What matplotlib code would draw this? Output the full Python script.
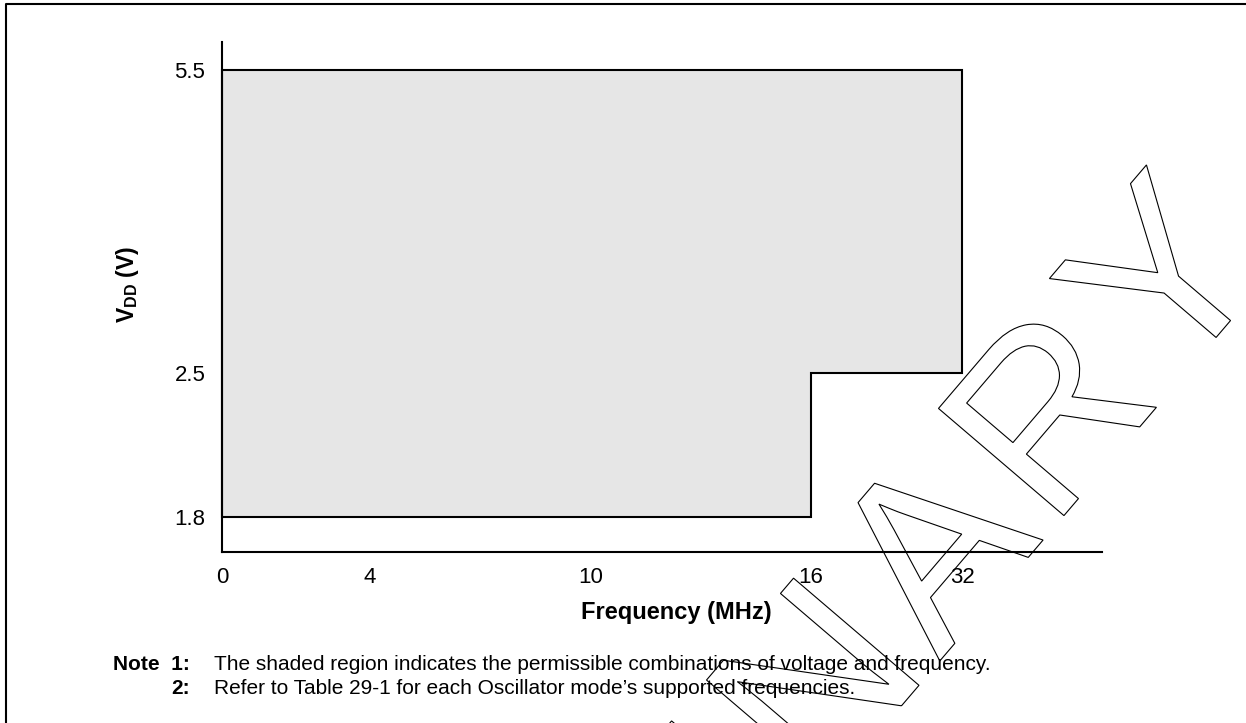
import numpy as np
import matplotlib
matplotlib.use('Agg')
import matplotlib.pyplot as plt
from matplotlib.textpath import TextPath
from matplotlib.path import Path
from matplotlib.patches import PathPatch
from matplotlib.font_manager import FontProperties, findfont, get_font
from matplotlib.transforms import Affine2D
from matplotlib.lines import Line2D

plt.rcParams['font.family'] = ['Liberation Sans', 'DejaVu Sans']
plt.rcParams['mathtext.fontset'] = 'custom'
plt.rcParams['mathtext.rm'] = 'Liberation Sans'
plt.rcParams['mathtext.bf'] = 'Liberation Sans:bold'

# values
freq_ticks = [0, 4, 10, 16, 32]
vdd_ticks = [1.8, 2.5, 5.5]
region_freq = [0, 16, 16, 32, 32, 0]
region_vdd = [1.8, 1.8, 2.5, 2.5, 5.5, 5.5]
note_nums = ['Note  1:', '2:']
note_texts = ['The shaded region indicates the permissible combinations of voltage and frequency.',
              'Refer to Table 29-1 for each Oscillator mode\u2019s supported frequencies.']

W, H = 1246, 723

# the drawing is not to scale: ticks sit on uneven slots
def interp_ext(v, xs, ys):
    xs = np.asarray(xs, float); ys = np.asarray(ys, float)
    v = np.asarray(v, float)
    out = np.interp(v, xs, ys)
    lo = (ys[1] - ys[0]) / (xs[1] - xs[0])
    hi = (ys[-1] - ys[-2]) / (xs[-1] - xs[-2])
    out = np.where(v < xs[0], ys[0] + (v - xs[0]) * lo, out)
    out = np.where(v > xs[-1], ys[-1] + (v - xs[-1]) * hi, out)
    return out

x_slots = [0, 1, 2.49, 3.98, 5.0]
y_slots = [0, 1.435, 4.47]
xfwd = lambda v: interp_ext(v, freq_ticks, x_slots)
xinv = lambda p: interp_ext(p, x_slots, freq_ticks)
yfwd = lambda v: interp_ext(v, vdd_ticks, y_slots)
yinv = lambda p: interp_ext(p, y_slots, vdd_ticks)

fig = plt.figure(figsize=(W / 100, H / 100), dpi=100)
ax = fig.add_axes([222 / W, 1 - 552 / H, 880 / W, 510 / H])
ax.set_xscale('function', functions=(xfwd, xinv))
ax.set_yscale('function', functions=(yfwd, yinv))

ax.fill(region_freq, region_vdd, facecolor='#e6e6e6', edgecolor='black',
        linewidth=1.5, clip_on=False, zorder=2)

ax.set_xlim(float(xinv(0)), float(xinv(5.946)))
ax.set_ylim(float(yinv(-0.35)), float(yinv(4.75)))

for s in ['top', 'right']:
    ax.spines[s].set_visible(False)
for s in ['left', 'bottom']:
    ax.spines[s].set_linewidth(1.5)
    ax.spines[s].set_zorder(3)

ax.set_xticks(freq_ticks)
ax.set_xticklabels([str(f) for f in freq_ticks])
ax.set_yticks(vdd_ticks)
ax.set_yticklabels([str(v) for v in vdd_ticks])
ax.xaxis.set_minor_locator(matplotlib.ticker.NullLocator())
ax.yaxis.set_minor_locator(matplotlib.ticker.NullLocator())
ax.tick_params(axis='both', length=0, labelsize=16)
ax.tick_params(axis='x', pad=11)
ax.tick_params(axis='y', pad=12)

ax.set_xlabel('Frequency (MHz)', fontsize=17, fontweight='bold')
ax.xaxis.set_label_coords(0.516, -0.1196)
ax.xaxis.label.set_va('center')
ax.set_ylabel(r'$\mathbf{V}_{\mathbf{DD}}$ (V)', fontsize=16.5, fontweight='bold')
ax.yaxis.set_label_coords(-0.107, 0.525)
ax.yaxis.label.set_va('center')

# notes under the chart
for i, (n, t) in enumerate(zip(note_nums, note_texts)):
    yy = 1 - (664 + i * 25) / H
    fig.text(190 / W, yy, n, ha='right', va='center', fontsize=15, fontweight='bold')
    fig.text(214 / W, yy, t, ha='left', va='center', fontsize=15)

# page frame (only left and top edges show)
fig.add_artist(Line2D([6 / W, 6 / W, 1], [0, 1 - 4 / H, 1 - 4 / H], color='black', lw=1.5))

# outlined PRELIMINARY stamp, laid out glyph by glyph with a little tracking
stamp = 'PRELIMINARY'
cap_px, track_px = 165, 12
fp = FontProperties(family='Liberation Sans')
ft = get_font(findfont(fp))
ft.set_size(100, 72)
k = cap_px / TextPath((0, 0), stamp, size=100, prop=fp).get_extents().y1
parts, x = [], 0.0
for c in stamp:
    parts.append(TextPath((x, 0), c, size=100, prop=fp))
    x += ft.load_char(ord(c)).linearHoriAdvance / 65536 + track_px / k
tp = Path.make_compound_path(*parts)
ey = parts[-1].get_extents()
stem_x = (ey.x0 + ey.x1) / 2
tr = Affine2D().translate(-stem_x, 0).scale(k).rotate_deg(49.5).translate(1223.4, H - 328.9)
fig.add_artist(PathPatch(tp, transform=tr, facecolor='none', edgecolor='black', lw=0.8, zorder=5))

fig.savefig('out.png', dpi=100)
